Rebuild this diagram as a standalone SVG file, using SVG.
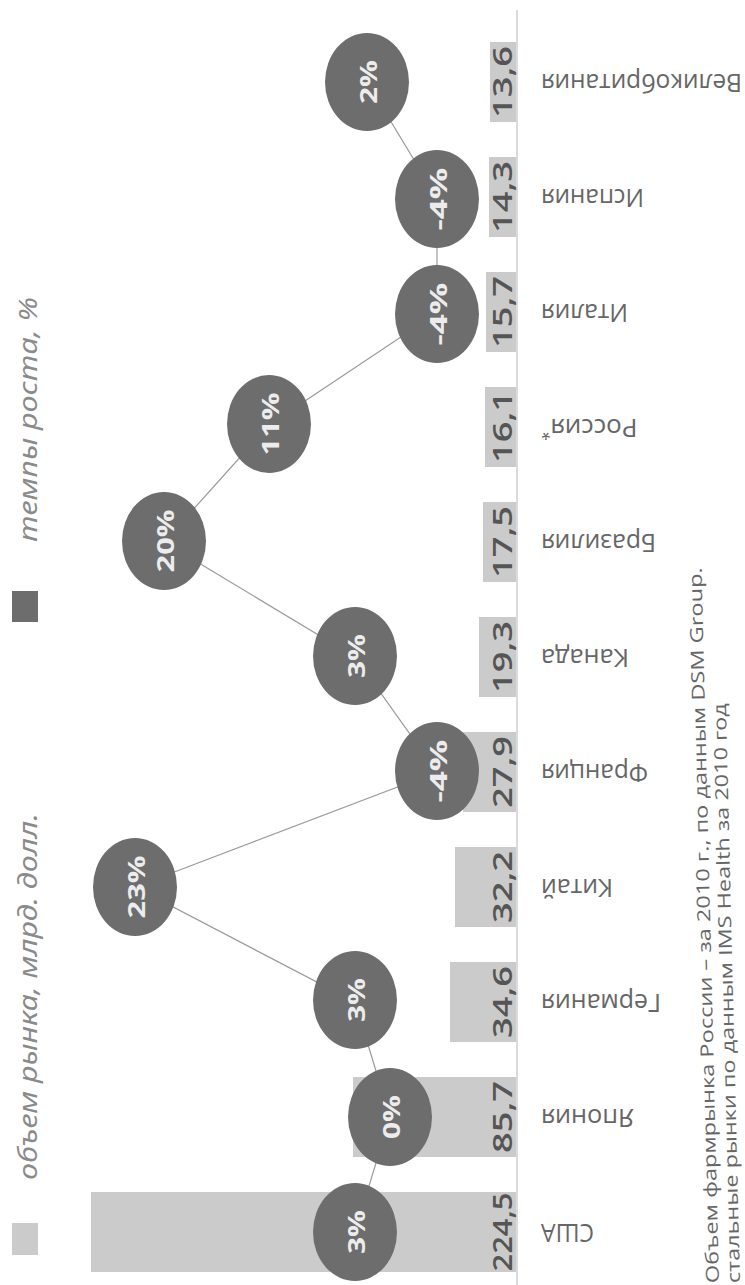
<svg xmlns="http://www.w3.org/2000/svg" width="745" height="1285" viewBox="0 0 745 1285">
<style>
.bar{fill:#cbcbcb}
.dot{fill:#6d6d6d}
.val{font-family:"Open Sans","Liberation Sans",sans-serif;font-size:27px;font-weight:600;fill:#555;text-anchor:middle}
.pct{font-family:"Open Sans","Liberation Sans",sans-serif;font-size:24px;font-weight:700;fill:#ececec;text-anchor:middle}
.lab{font-family:"Open Sans","Liberation Sans",sans-serif;font-size:26px;fill:#666;text-anchor:end}
.leg{font-family:"Noto Sans","Open Sans",sans-serif;font-size:26px;font-style:italic;fill:#8a8a8a}
.note{font-family:"Open Sans","Liberation Sans",sans-serif;font-size:18px;fill:#666}
.conn{stroke:#9a9a9a;stroke-width:1.2;fill:none}
</style>
<rect width="745" height="1285" fill="#ffffff"/>

<g id="legend">
  <rect x="12" y="1223" width="26" height="32" fill="#cbcbcb"/>
  <text class="leg" transform="translate(37,1180) rotate(-90)" textLength="367" lengthAdjust="spacingAndGlyphs">объем рынка, млрд. долл.</text>
  <rect x="12" y="591" width="26" height="31" fill="#6d6d6d"/>
  <text class="leg" transform="translate(37,542) rotate(-90)" textLength="245" lengthAdjust="spacingAndGlyphs">темпы роста, %</text>
</g>

<g id="axis">
  <line x1="517" y1="10" x2="517" y2="1285" stroke="#cfcfcf" stroke-width="1.5"/>
</g>

<g id="bars">
  <g id="bar-gb"><rect class="bar" x="490" y="42" width="26" height="80"/><text class="val" transform="translate(512,82) rotate(-90)" textLength="72" lengthAdjust="spacingAndGlyphs">13,6</text></g>
  <g id="bar-es"><rect class="bar" x="489" y="157" width="27" height="80"/><text class="val" transform="translate(512,197) rotate(-90)" textLength="72" lengthAdjust="spacingAndGlyphs">14,3</text></g>
  <g id="bar-it"><rect class="bar" x="486" y="272" width="30" height="80"/><text class="val" transform="translate(512,312) rotate(-90)" textLength="72" lengthAdjust="spacingAndGlyphs">15,7</text></g>
  <g id="bar-ru"><rect class="bar" x="485" y="387" width="31" height="80"/><text class="val" transform="translate(512,427) rotate(-90)" textLength="72" lengthAdjust="spacingAndGlyphs">16,1</text></g>
  <g id="bar-br"><rect class="bar" x="483" y="502" width="33" height="80"/><text class="val" transform="translate(512,542) rotate(-90)" textLength="72" lengthAdjust="spacingAndGlyphs">17,5</text></g>
  <g id="bar-ca"><rect class="bar" x="479" y="617" width="37" height="80"/><text class="val" transform="translate(512,657) rotate(-90)" textLength="72" lengthAdjust="spacingAndGlyphs">19,3</text></g>
  <g id="bar-fr"><rect class="bar" x="463" y="732" width="53" height="80"/><text class="val" transform="translate(512,772) rotate(-90)" textLength="72" lengthAdjust="spacingAndGlyphs">27,9</text></g>
  <g id="bar-cn"><rect class="bar" x="455" y="847" width="61" height="80"/><text class="val" transform="translate(512,887) rotate(-90)" textLength="72" lengthAdjust="spacingAndGlyphs">32,2</text></g>
  <g id="bar-de"><rect class="bar" x="450" y="962" width="66" height="80"/><text class="val" transform="translate(512,1002) rotate(-90)" textLength="72" lengthAdjust="spacingAndGlyphs">34,6</text></g>
  <g id="bar-jp"><rect class="bar" x="353" y="1077" width="163" height="80"/><text class="val" transform="translate(512,1117) rotate(-90)" textLength="72" lengthAdjust="spacingAndGlyphs">85,7</text></g>
  <g id="bar-us"><rect class="bar" x="91" y="1192" width="425" height="80"/><text class="val" transform="translate(512,1232) rotate(-90)" textLength="79" lengthAdjust="spacingAndGlyphs">224,5</text></g>
</g>

<g id="labels">
  <text id="lab-gb" class="lab" transform="translate(541,74) rotate(180)" textLength="201" lengthAdjust="spacingAndGlyphs">Великобритания</text>
  <text id="lab-es" class="lab" transform="translate(541,189) rotate(180)" textLength="103" lengthAdjust="spacingAndGlyphs">Испания</text>
  <text id="lab-it" class="lab" transform="translate(541,304) rotate(180)" textLength="87" lengthAdjust="spacingAndGlyphs">Италия</text>
  <text id="lab-ru" class="lab" transform="translate(541,419) rotate(180)">Россия<tspan font-size="17" dy="-9">*</tspan></text>
  <text id="lab-br" class="lab" transform="translate(541,534) rotate(180)" textLength="115" lengthAdjust="spacingAndGlyphs">Бразилия</text>
  <text id="lab-ca" class="lab" transform="translate(541,649) rotate(180)" textLength="88" lengthAdjust="spacingAndGlyphs">Канада</text>
  <text id="lab-fr" class="lab" transform="translate(541,764) rotate(180)" textLength="107" lengthAdjust="spacingAndGlyphs">Франция</text>
  <text id="lab-cn" class="lab" transform="translate(541,879) rotate(180)" textLength="72" lengthAdjust="spacingAndGlyphs">Китай</text>
  <text id="lab-de" class="lab" transform="translate(541,994) rotate(180)" textLength="120" lengthAdjust="spacingAndGlyphs">Германия</text>
  <text id="lab-jp" class="lab" transform="translate(541,1109) rotate(180)" textLength="93" lengthAdjust="spacingAndGlyphs">Япония</text>
  <text id="lab-us" class="lab" transform="translate(541,1224) rotate(180)" textLength="53" lengthAdjust="spacingAndGlyphs">США</text>
</g>

<g id="connectors">
  <polyline class="conn" points="355,1232 390,1117 355,1002 135,887 437,772 355,657 164,542 269,425 437,313 437,198 367,82"/>
</g>

<g id="n-us"><ellipse class="dot" cx="355" cy="1232" rx="42" ry="49"/><text class="pct" transform="translate(365,1232) rotate(-90)" textLength="44" lengthAdjust="spacingAndGlyphs">3%</text></g>
<g id="n-jp"><ellipse class="dot" cx="390" cy="1117" rx="42" ry="49"/><text class="pct" transform="translate(400,1117) rotate(-90)" textLength="44" lengthAdjust="spacingAndGlyphs">0%</text></g>
<g id="n-de"><ellipse class="dot" cx="355" cy="1000" rx="42" ry="49"/><text class="pct" transform="translate(365,1000) rotate(-90)" textLength="44" lengthAdjust="spacingAndGlyphs">3%</text></g>
<g id="n-cn"><ellipse class="dot" cx="135" cy="887" rx="42" ry="49"/><text class="pct" transform="translate(145,887) rotate(-90)" textLength="63" lengthAdjust="spacingAndGlyphs">23%</text></g>
<g id="n-fr"><ellipse class="dot" cx="437" cy="771" rx="42" ry="49"/><text class="pct" transform="translate(447,771) rotate(-90)" textLength="63" lengthAdjust="spacingAndGlyphs">-4%</text></g>
<g id="n-ca"><ellipse class="dot" cx="355" cy="656" rx="42" ry="49"/><text class="pct" transform="translate(365,656) rotate(-90)" textLength="44" lengthAdjust="spacingAndGlyphs">3%</text></g>
<g id="n-br"><ellipse class="dot" cx="164" cy="541" rx="42" ry="49"/><text class="pct" transform="translate(174,541) rotate(-90)" textLength="63" lengthAdjust="spacingAndGlyphs">20%</text></g>
<g id="n-ru"><ellipse class="dot" cx="269" cy="424" rx="42" ry="49"/><text class="pct" transform="translate(279,424) rotate(-90)" textLength="63" lengthAdjust="spacingAndGlyphs">11%</text></g>
<g id="n-it"><ellipse class="dot" cx="437" cy="314" rx="42" ry="49"/><text class="pct" transform="translate(447,314) rotate(-90)" textLength="63" lengthAdjust="spacingAndGlyphs">-4%</text></g>
<g id="n-es"><ellipse class="dot" cx="437" cy="199" rx="42" ry="49"/><text class="pct" transform="translate(447,199) rotate(-90)" textLength="63" lengthAdjust="spacingAndGlyphs">-4%</text></g>
<g id="n-gb"><ellipse class="dot" cx="367" cy="82" rx="42" ry="49"/><text class="pct" transform="translate(377,82) rotate(-90)" textLength="44" lengthAdjust="spacingAndGlyphs">2%</text></g>

<g id="footnote">
  <text class="note" transform="translate(719,1283) rotate(-91.4)" textLength="716" lengthAdjust="spacingAndGlyphs">Объем фармрынка России – за 2010 г., по данным DSM Group.</text>
  <text class="note" transform="translate(740,1283) rotate(-91.4)" textLength="580" lengthAdjust="spacingAndGlyphs">стальные рынки по данным IMS Health за 2010 год</text>
</g>
</svg>
